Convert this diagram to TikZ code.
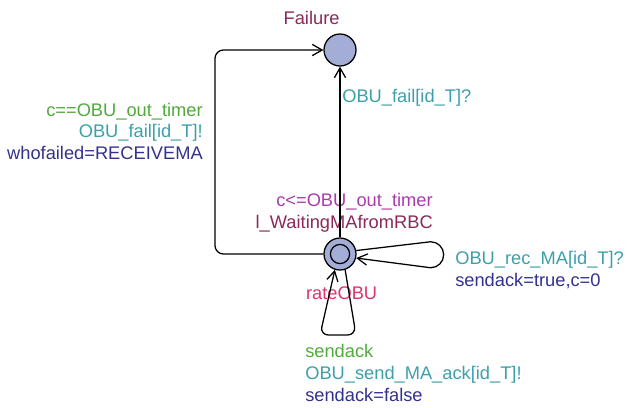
\documentclass[tikz,border=0pt]{standalone}
\usepackage{fontspec}
\setmainfont{Liberation Sans}
\usepackage{tikz}
\usetikzlibrary{arrows.meta}
\definecolor{locfill}{RGB}{163,173,214}
\definecolor{locname}{RGB}{140,40,90}
\definecolor{invcol}{RGB}{170,60,170}
\definecolor{ratecol}{RGB}{220,50,110}
\definecolor{guardcol}{RGB}{80,170,60}
\definecolor{synccol}{RGB}{60,160,170}
\definecolor{assigncol}{RGB}{50,50,140}
\tikzstyle{location}=[circle, draw=black, fill=locfill, minimum size=8mm, inner sep=0pt, line width=0.9pt]
\tikzstyle{initloc}=[location, path picture={\draw[line width=0.9pt] (path picture bounding box.center) circle (2.4mm);}]
\tikzstyle{transition}=[draw=black, line width=0.9pt, -{Straight Barb[length=7pt,width=8pt]}]
\tikzstyle{lbl}=[inner sep=0pt, font=\fontsize{13}{15.6}\selectfont]

\begin{document}
\begin{tikzpicture}
			\useasboundingbox (0,0) rectangle (15.675,10.175);
			% locations
			\node[location] (fail) at (8.5,8.925) {};
			\node[initloc] (init) at (8.5,3.825) {};
			\node[lbl, text=locname] (failname) at (7.79,9.725) {Failure};
			\node[lbl, text=locname, anchor=east, align=right] (initname) at (10.825,4.86)
				{\textcolor{invcol}{c<=OBU\_out\_timer}\\l\_WaitingMAfromRBC};
			\node[lbl, text=ratecol] (initrate) at (8.54,2.85) {rateOBU};
			% helper points for the loops
			\coordinate (knee) at (5.375,8.9);
			\coordinate (lpR) at (8.9,1.8);
			\coordinate (lpL) at (8.0,1.8);
			% transitions
			\path[transition] (init) -- (fail);
			\path[transition, rounded corners=6pt]
				(init) -- (init -| knee) |- (fail);
			\path[transition]
				(init.12) -- ++(1.86,0.22) arc[start angle=90,end angle=-90,radius=0.325] -- (init.-14);
			\path[transition, rounded corners=6pt]
				(init.-72) -- (lpR) -- (lpL) -- (init.-108);
			% transition labels
			\node[lbl, text=synccol, anchor=west] (syncfail) at (8.55,7.725) {OBU\_fail[id\_T]?};
			\node[lbl, anchor=east, align=right] (timeout) at (5.075,6.89)
				{\textcolor{guardcol}{c==OBU\_out\_timer}\\
				 \textcolor{synccol}{OBU\_fail[id\_T]!}\\
				 \textcolor{assigncol}{whofailed=RECEIVEMA}};
			\node[lbl, anchor=west, align=left] (recma) at (11.375,3.425)
				{\textcolor{synccol}{OBU\_rec\_MA[id\_T]?}\\
				 \textcolor{assigncol}{sendack=true,c=0}};
			\node[lbl, anchor=west, align=left] (sendma) at (7.625,0.85)
				{\textcolor{guardcol}{sendack}\\
				 \textcolor{synccol}{OBU\_send\_MA\_ack[id\_T]!}\\
				 \textcolor{assigncol}{sendack=false}};
		\end{tikzpicture}
\end{document}
